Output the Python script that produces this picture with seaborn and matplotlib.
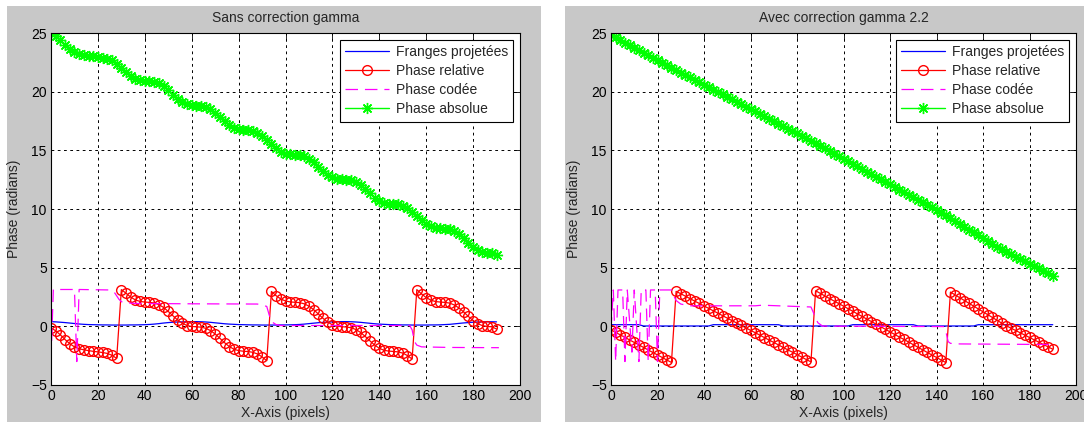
import matplotlib
matplotlib.use("Agg")
import matplotlib.pyplot as plt
import seaborn as sns
from matplotlib.patches import Rectangle

# x positions (pixels) for the sampled curves
x_pix = list(range(0, 191, 2))

# ---- panel 1 : Sans correction gamma ----
franges_1 = [0.40, 0.38, 0.35, 0.32, 0.28, 0.24, 0.20, 0.17, 0.15, 0.14, 0.13, 0.12, 0.12, 0.11, 0.11, 0.11,
             0.11, 0.12, 0.12, 0.13, 0.14, 0.16, 0.19, 0.23, 0.28, 0.32, 0.35, 0.37, 0.38, 0.39, 0.40, 0.40,
             0.39, 0.37, 0.34, 0.30, 0.26, 0.22, 0.19, 0.17, 0.15, 0.14, 0.13, 0.12, 0.12, 0.11, 0.11, 0.11,
             0.11, 0.12, 0.12, 0.13, 0.14, 0.16, 0.19, 0.23, 0.27, 0.31, 0.34, 0.36, 0.38, 0.39, 0.40, 0.40,
             0.39, 0.37, 0.34, 0.30, 0.26, 0.22, 0.19, 0.17, 0.15, 0.14, 0.13, 0.12, 0.12, 0.11, 0.11, 0.11,
             0.11, 0.12, 0.12, 0.13, 0.15, 0.17, 0.21, 0.25, 0.29, 0.32, 0.35, 0.37, 0.38, 0.39, 0.39, 0.38]
relative_1 = [-0.13, -0.38, -0.73, -1.13, -1.48, -1.75, -1.91, -2.00, -2.07, -2.13, -2.18, -2.23, -2.31, -2.47, -2.73, 3.13,
              2.82, 2.49, 2.25, 2.12, 2.07, 2.04, 1.99, 1.85, 1.61, 1.27, 0.90, 0.54, 0.26, 0.07, -0.01, -0.04,
              -0.07, -0.17, -0.36, -0.65, -1.02, -1.39, -1.72, -1.95, -2.07, -2.12, -2.15, -2.21, -2.35, -2.60, -2.93, 2.97,
              2.61, 2.33, 2.16, 2.08, 2.05, 2.02, 1.92, 1.72, 1.42, 1.05, 0.68, 0.36, 0.13, 0.01, -0.03, -0.06,
              -0.12, -0.27, -0.52, -0.86, -1.24, -1.59, -1.87, -2.04, -2.11, -2.14, -2.18, -2.28, -2.49, -2.79, 3.13, 2.76,
              2.45, 2.23, 2.11, 2.07, 2.04, 1.98, 1.82, 1.56, 1.22, 0.84, 0.49, 0.22, 0.06, -0.01, -0.04, -0.23]
absolue_1 = [25.00, 24.75, 24.40, 24.00, 23.65, 23.38, 23.22, 23.13, 23.06, 23.00, 22.95, 22.90, 22.82, 22.66, 22.40, 21.98,
             21.67, 21.34, 21.10, 20.97, 20.92, 20.89, 20.84, 20.70, 20.46, 20.12, 19.75, 19.39, 19.11, 18.92, 18.84, 18.81,
             18.78, 18.68, 18.49, 18.20, 17.83, 17.46, 17.13, 16.90, 16.78, 16.73, 16.70, 16.64, 16.50, 16.25, 15.92, 15.54,
             15.18, 14.90, 14.73, 14.65, 14.62, 14.59, 14.49, 14.29, 13.99, 13.62, 13.25, 12.93, 12.70, 12.58, 12.54, 12.51,
             12.45, 12.30, 12.05, 11.71, 11.33, 10.98, 10.70, 10.53, 10.46, 10.43, 10.39, 10.29, 10.08, 9.78, 9.41, 9.04,
             8.73, 8.51, 8.39, 8.35, 8.32, 8.26, 8.10, 7.84, 7.50, 7.12, 6.77, 6.50, 6.34, 6.27, 6.24, 6.05]
codee_1_x = [0, 1, 10, 11, 12, 25, 27, 28, 29, 30, 32, 36, 60, 88, 90, 92, 93, 94, 96, 98,
             153, 154, 155, 156, 158, 170, 191]
codee_1 = [-2.9, 3.14, 3.14, -3.0, 3.14, 3.10, 2.9, 2.6, 2.3, 2.1, 2.0, 1.95, 1.92, 1.9, 1.8, 1.7, 1.0, 0.4, 0.15, 0.07,
           0.07, -0.3, -1.3, -1.6, -1.75, -1.8, -1.82]

# ---- panel 2 : Avec correction gamma 2.2 ----
franges_2 = [0.14, 0.14, 0.14, 0.14, 0.14, 0.14, 0.14, 0.03, 0.03, 0.03, 0.03, 0.03, 0.03, 0.03, 0.03, 0.03,
             0.03, 0.03, 0.03, 0.03, 0.03, 0.03, 0.14, 0.14, 0.14, 0.14, 0.14, 0.14, 0.14, 0.14, 0.14, 0.14,
             0.14, 0.14, 0.14, 0.14, 0.14, 0.03, 0.03, 0.03, 0.03, 0.03, 0.03, 0.03, 0.03, 0.03, 0.03, 0.03,
             0.03, 0.03, 0.03, 0.03, 0.14, 0.14, 0.14, 0.14, 0.14, 0.14, 0.14, 0.14, 0.14, 0.14, 0.14, 0.14,
             0.14, 0.14, 0.03, 0.03, 0.03, 0.03, 0.03, 0.03, 0.03, 0.03, 0.03, 0.03, 0.03, 0.03, 0.03, 0.14,
             0.14, 0.14, 0.14, 0.14, 0.14, 0.14, 0.14, 0.14, 0.14, 0.14, 0.14, 0.14, 0.14, 0.14, 0.14, 0.14]
relative_2 = [-0.30, -0.51, -0.73, -0.94, -1.16, -1.37, -1.58, -1.80, -2.01, -2.23, -2.44, -2.65, -2.87, -3.08, 2.98, 2.78,
              2.57, 2.36, 2.15, 1.95, 1.74, 1.53, 1.32, 1.12, 0.91, 0.70, 0.49, 0.29, 0.08, -0.13, -0.34, -0.54,
              -0.75, -0.96, -1.17, -1.37, -1.58, -1.79, -2.00, -2.20, -2.41, -2.62, -2.83, -3.03, 3.03, 2.81, 2.59, 2.37,
              2.15, 1.94, 1.72, 1.50, 1.28, 1.06, 0.84, 0.62, 0.41, 0.19, -0.03, -0.25, -0.47, -0.69, -0.91, -1.12,
              -1.34, -1.56, -1.78, -2.00, -2.22, -2.44, -2.65, -2.87, -3.09, 2.92, 2.68, 2.44, 2.20, 1.96, 1.72, 1.48,
              1.24, 1.00, 0.76, 0.52, 0.28, 0.05, -0.15, -0.35, -0.55, -0.75, -0.95, -1.15, -1.35, -1.55, -1.75, -1.95]
absolue_2 = [24.83, 24.62, 24.40, 24.19, 23.97, 23.76, 23.55, 23.33, 23.12, 22.90, 22.69, 22.48, 22.26, 22.05, 21.83, 21.63,
             21.42, 21.21, 21.00, 20.80, 20.59, 20.38, 20.17, 19.97, 19.76, 19.55, 19.34, 19.14, 18.93, 18.72, 18.51, 18.31,
             18.10, 17.89, 17.68, 17.48, 17.27, 17.06, 16.85, 16.65, 16.44, 16.23, 16.02, 15.82, 15.60, 15.38, 15.16, 14.94,
             14.72, 14.51, 14.29, 14.07, 13.85, 13.63, 13.41, 13.19, 12.98, 12.76, 12.54, 12.32, 12.10, 11.88, 11.66, 11.45,
             11.23, 11.01, 10.79, 10.57, 10.35, 10.13, 9.92, 9.70, 9.48, 9.20, 8.96, 8.72, 8.48, 8.24, 8.00, 7.76,
             7.52, 7.28, 7.04, 6.80, 6.56, 6.33, 6.13, 5.93, 5.73, 5.53, 5.33, 5.13, 4.93, 4.73, 4.53, 4.33]
codee_2_x = [0, 1, 2, 3, 5, 6, 7, 9, 10, 12, 13, 15, 16, 17, 19, 20, 21, 26, 27, 28, 30, 34,
             62, 65, 86, 87, 88, 89, 91, 143, 144, 145, 146, 150, 190]
codee_2 = [-0.3, 3.1, -3.0, 3.1, 3.1, -3.0, 3.1, -2.2, 3.1, -3.0, 3.1, 3.1, -3.0, 3.1, 3.1, -3.0, 3.1, 3.1, 2.6, 2.2,
           1.9, 1.75, 1.75, 1.8, 1.65, 1.2, 0.7, 0.3, 0.02, -0.02, -0.4, -1.3, -1.45, -1.5, -1.55]

panels = [
    ("Sans correction gamma", franges_1, relative_1, codee_1_x, codee_1, absolue_1),
    ("Avec correction gamma 2.2", franges_2, relative_2, codee_2_x, codee_2, absolue_2),
]

sns.set_style("white")
plt.rcParams["font.family"] = ["Liberation Sans", "DejaVu Sans"]
plt.rcParams["lines.scale_dashes"] = False

W, H = 1084, 422
fig = plt.figure(figsize=(W / 100, H / 100), dpi=100, facecolor="white")

# gray MATLAB figure backgrounds (pixels: left, right)
for gx0, gx1 in [(7, 541), (565, 1090)]:
    fig.patches.append(Rectangle((gx0 / W, 0), (gx1 - gx0) / W, (H - 6) / H,
                                 transform=fig.transFigure, facecolor="#c8c8c8",
                                 edgecolor="none", zorder=-10))

axes_px = [(51, 520), (611, 1076)]
top_px, bot_px = 33, 385

for (title, fr, rel, cx, cod, ab), (x0, x1) in zip(panels, axes_px):
    ax = fig.add_axes([x0 / W, (H - bot_px) / H, (x1 - x0) / W, (bot_px - top_px) / H])
    ax.set_facecolor("white")

    sns.lineplot(x=x_pix, y=fr, ax=ax, color="#0000ff", lw=0.9, label="Franges projetées")
    sns.lineplot(x=x_pix, y=rel, ax=ax, color="#ff0000", lw=0.9, marker="o", markersize=7,
                 markerfacecolor="none", markeredgecolor="#ff0000", markeredgewidth=1.0,
                 label="Phase relative")
    sns.lineplot(x=cx, y=cod, ax=ax, color="#ff00ff", lw=0.9, linestyle=(0, (9, 5)),
                 label="Phase codée")
    sns.lineplot(x=x_pix, y=ab, ax=ax, color="#00ff00", lw=1.0, marker=(8, 2, 0), markersize=8,
                 markeredgecolor="#00ff00", markeredgewidth=1.0, label="Phase absolue")

    ax.set_xlim(0, 200)
    ax.set_ylim(-5, 25)
    ax.set_xticks(range(0, 201, 20))
    ax.set_yticks(range(-5, 26, 5))
    ax.grid(True, color="black", linestyle=(0, (2, 2.5)), lw=0.7)
    ax.tick_params(direction="in", top=True, right=True, length=4, width=0.6,
                   labelsize=10, colors="black", pad=3)
    for sp in ax.spines.values():
        sp.set_color("black")
        sp.set_linewidth(0.8)

    ax.set_title(title, fontsize=10, pad=8)
    ax.set_xlabel("X-Axis (pixels)", fontsize=10)
    ax.set_ylabel("Phase (radians)", fontsize=10)
    ax.xaxis.set_label_coords(0.5, -0.08)
    ax.xaxis.label.set_va("center")
    ax.yaxis.set_label_coords(-37 / (x1 - x0), 0.5)
    ax.yaxis.label.set_va("center")

    leg = ax.legend(loc="upper right", fontsize=10, frameon=True, fancybox=False,
                    edgecolor="black", framealpha=1, handlelength=3.2, handletextpad=0.45,
                    labelspacing=0.36, borderpad=0.38, borderaxespad=0.5)
    leg.get_frame().set_linewidth(0.8)

fig.savefig("out.png", dpi=100, facecolor="white")
